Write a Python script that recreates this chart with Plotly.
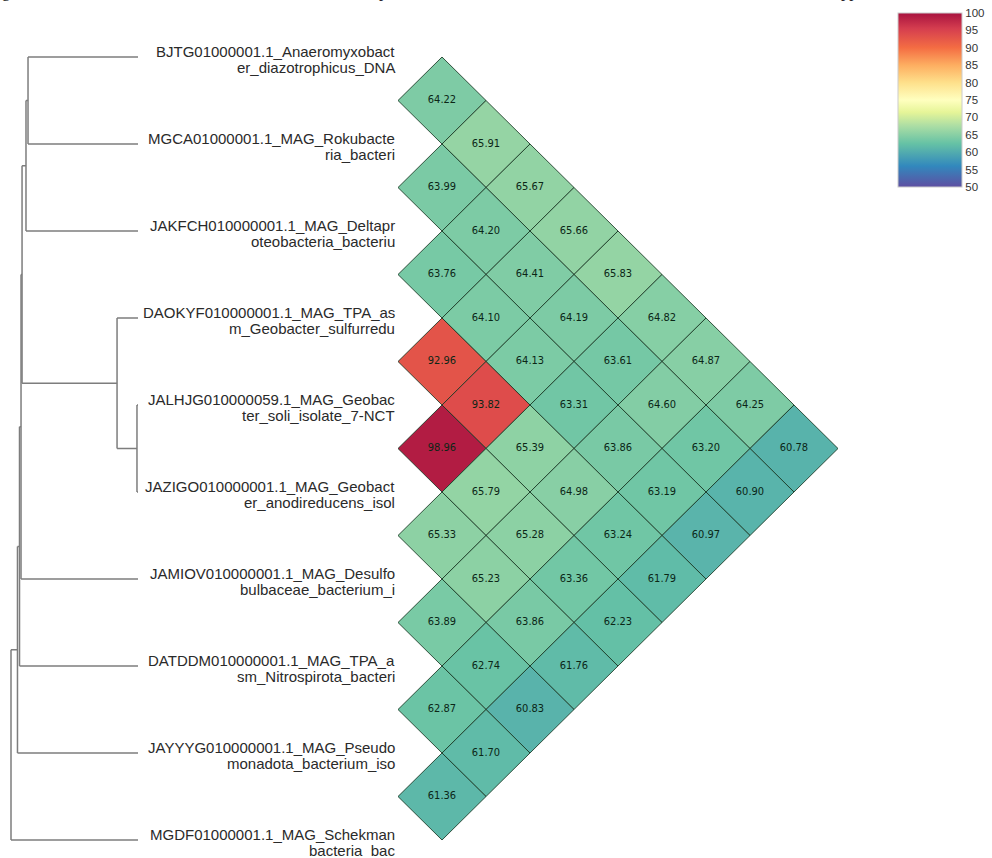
import numpy as np
import plotly.graph_objects as go

# ---------------- data ----------------
label_line1 = [
    "BJTG01000001.1_Anaeromyxobact",
    "MGCA01000001.1_MAG_Rokubacte",
    "JAKFCH010000001.1_MAG_Deltapr",
    "DAOKYF010000001.1_MAG_TPA_as",
    "JALHJG010000059.1_MAG_Geobac",
    "JAZIGO010000001.1_MAG_Geobact",
    "JAMIOV010000001.1_MAG_Desulfo",
    "DATDDM010000001.1_MAG_TPA_a",
    "JAYYYG010000001.1_MAG_Pseudo",
    "MGDF01000001.1_MAG_Schekman",
]
label_line2 = [
    "er_diazotrophicus_DNA",
    "ria_bacteri",
    "oteobacteria_bacteriu",
    "m_Geobacter_sulfurredu",
    "ter_soli_isolate_7-NCT",
    "er_anodireducens_isol",
    "bulbaceae_bacterium_i",
    "sm_Nitrospirota_bacteri",
    "monadota_bacterium_iso",
    "bacteria_bac",
]

# ANI values, row i holds pairs (i, j) for j = i+1 .. 9
ani_rows = [
    [64.22, 65.91, 65.67, 65.66, 65.83, 64.82, 64.87, 64.25, 60.78],
    [63.99, 64.20, 64.41, 64.19, 63.61, 64.60, 63.20, 60.90],
    [63.76, 64.10, 64.13, 63.31, 63.86, 63.19, 60.97],
    [92.96, 93.82, 65.39, 64.98, 63.24, 61.79],
    [98.96, 65.79, 65.28, 63.36, 62.23],
    [65.33, 65.23, 63.86, 61.76],
    [63.89, 62.74, 60.83],
    [62.87, 61.70],
    [61.36],
]

# dendrogram linkage: (child_a, child_b, height); leaves are 0..9
linkage = [
    (4, 5, 0.008),
    (3, 10, 0.165),
    (0, 1, 0.866),
    (12, 2, 0.882),
    (13, 11, 0.913),
    (14, 6, 0.921),
    (15, 7, 0.933),
    (16, 8, 0.949),
    (17, 9, 1.000),
]

colorbar_ticks = [50, 55, 60, 65, 70, 75, 80, 85, 90, 95, 100]
cmin, cmax = 50, 100

caption = ("genomes of the reference strains and the MAGs was computed with the "
           "ANI calculator to determine relatedness to <i>Geobacter</i> spp")

# ---------------- style ----------------
scale_colors = ['#5e4fa2', '#3288bd', '#66c2a5', '#abdda4', '#e6f598', '#ffffbf',
                '#fee08b', '#fdae61', '#f46d43', '#d53e4f', '#a8123f']
scale_stops = [0.0, 0.12, 0.25, 0.35, 0.43, 0.5, 0.6, 0.7, 0.8, 0.91, 1.0]
colorscale = [[s, c] for s, c in zip(scale_stops, scale_colors)]
rgb_stops = np.array([[int(c[k:k + 2], 16) for k in (1, 3, 5)] for c in scale_colors], float)


def value_color(v):
    t = min(max((v - cmin) / (cmax - cmin), 0), 1)
    rgb = [np.interp(t, scale_stops, rgb_stops[:, ch]) for ch in range(3)]
    return 'rgb(%d,%d,%d)' % tuple(int(round(c)) for c in rgb)


W, H = 992, 858
n_leaf = len(label_line1)
leaf_top_px, leaf_bot_px = 57, 840
px_per_leaf = (leaf_bot_px - leaf_top_px) / (n_leaf - 1)
y_range = [(n_leaf - 1) + (H - leaf_bot_px) / px_per_leaf, -leaf_top_px / px_per_leaf]

# heatmap x axis: 0..5 units over 398..838 px
hx_left, hx_right, hx_units = 398, 838, 5.0
hx_ppu = (hx_right - hx_left) / hx_units
hpad = 0.1
x_domain = [(hx_left - hpad * hx_ppu) / W, (hx_right + hpad * hx_ppu) / W]
x_range = [-hpad, hx_units + hpad]

# dendrogram x axis: height 1 at 11 px, 0 at 138 px
dx_root, dx_leaf = 11, 138
d_ppu = dx_leaf - dx_root
x2_domain = [(dx_root - 0.05 * d_ppu) / W, (dx_leaf + 0.02 * d_ppu) / W]
x2_range = [1.05, -0.02]

fig = go.Figure()

# ---------------- heatmap diamonds ----------------
cx, cy, vals = [], [], []
for i, row in enumerate(ani_rows):
    for k, v in enumerate(row):
        j = i + 1 + k
        x0 = (j - i) * 0.5
        y0 = (i + j) / 2
        cx.append(x0)
        cy.append(y0)
        vals.append(v)
        fig.add_trace(go.Scatter(
            x=[x0 - 0.5, x0, x0 + 0.5, x0, x0 - 0.5],
            y=[y0, y0 - 0.5, y0, y0 + 0.5, y0],
            mode='lines', fill='toself', fillcolor=value_color(v),
            line=dict(color='rgba(25,55,35,0.85)', width=1),
            hoverinfo='skip', showlegend=False))

fig.add_trace(go.Scatter(
    x=cx, y=cy, mode='text', text=['%.2f' % v for v in vals],
    textfont=dict(size=11, color='#0b2616',
                  family='Liberation Sans Narrow, Arial Narrow, DejaVu Sans Condensed, Liberation Sans'),
    hoverinfo='skip', showlegend=False))

# colour bar carrier (invisible markers at the cell centres)
fig.add_trace(go.Scatter(
    x=cx, y=cy, mode='markers',
    marker=dict(size=1, opacity=0, color=vals, colorscale=colorscale,
                cmin=cmin, cmax=cmax, showscale=True,
                colorbar=dict(thickness=64, thicknessmode='pixels',
                              len=174, lenmode='pixels',
                              x=898 / W, xanchor='left', y=1 - 13 / H, yanchor='top',
                              xpad=0, ypad=0, tickvals=colorbar_ticks, ticks='',
                              tickfont=dict(size=11.5, color='#333',
                                            family='Liberation Sans Narrow, Liberation Sans'),
                              outlinewidth=1, outlinecolor='#cccccc')),
    hoverinfo='skip', showlegend=False))

# ---------------- dendrogram ----------------
node_y = {i: float(i) for i in range(n_leaf)}
node_h = {i: 0.0 for i in range(n_leaf)}
seg_x, seg_y = [], []
for n, (a, b, h) in enumerate(linkage):
    nid = n_leaf + n
    ya, yb = node_y[a], node_y[b]
    node_y[nid] = (ya + yb) / 2
    node_h[nid] = h
    seg_x += [h, h, None, h, node_h[a], None, h, node_h[b], None]
    seg_y += [ya, yb, None, ya, ya, None, yb, yb, None]

fig.add_trace(go.Scatter(
    x=seg_x, y=seg_y, mode='lines', xaxis='x2', yaxis='y',
    line=dict(color='#7d7d7d', width=1.5), hoverinfo='skip', showlegend=False))

# ---------------- labels ----------------
annotations = []
lab_font = dict(size=15, color='#2a2a2a', family='Liberation Sans, Arial, sans-serif')
for i in range(n_leaf):
    annotations.append(dict(x=397 / W, xref='paper', y=i, yref='y', xanchor='right',
                            yanchor='middle', yshift=6, text=label_line1[i],
                            showarrow=False, font=lab_font))
    annotations.append(dict(x=397 / W, xref='paper', y=i, yref='y', xanchor='right',
                            yanchor='middle', yshift=-10, text=label_line2[i],
                            showarrow=False, font=lab_font))

annotations.append(dict(x=0, xref='paper', y=1, yref='paper', xanchor='left',
                        yanchor='bottom', yshift=-3.5, text=caption, showarrow=False,
                        font=dict(size=16.5, color='#222',
                                  family='Liberation Serif, Times New Roman, serif')))

fig.update_layout(
    width=W, height=H, margin=dict(l=0, r=0, t=0, b=0),
    paper_bgcolor='white', plot_bgcolor='white',
    xaxis=dict(domain=x_domain, range=x_range, visible=False, fixedrange=True),
    xaxis2=dict(domain=x2_domain, range=x2_range, visible=False, anchor='y', fixedrange=True),
    yaxis=dict(domain=[0, 1], range=y_range, visible=False, fixedrange=True),
    annotations=annotations,
    showlegend=False,
)

fig.write_html("out.html", config={'displayModeBar': False},
               post_script="document.body.style.margin='0';")
